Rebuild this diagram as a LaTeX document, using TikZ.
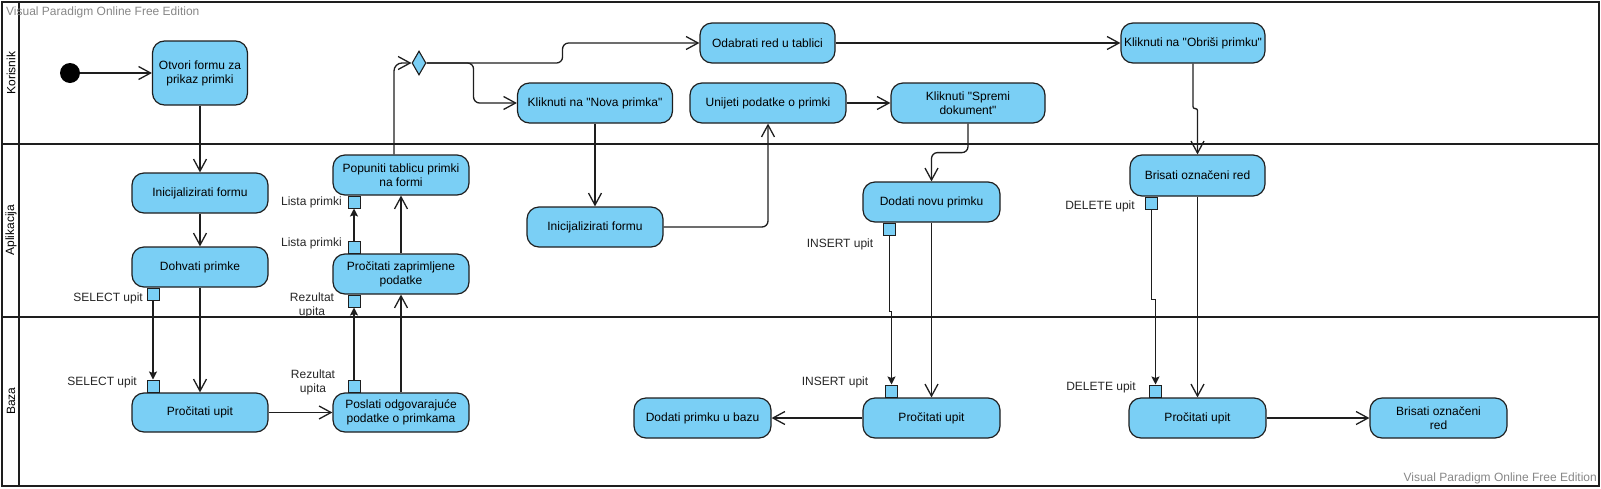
\documentclass[tikz,border=0pt]{standalone}
\usepackage{fontspec}
\setmainfont{Liberation Sans}
\newfontfamily\vpfont{Liberation Sans}
\definecolor{vpblue}{RGB}{122, 207, 245}
\definecolor{vpline}{RGB}{30, 30, 30}
\definecolor{vpgray}{RGB}{135, 135, 135}
\usepackage{tikz}
\usetikzlibrary{shapes.geometric, arrows.meta, positioning}

\begin{document}
\begin{tikzpicture}[x=1pt, y=-1pt,
  action/.style={draw=vpline, fill=vpblue, line width=1.2pt, rounded corners=12pt, align=center, inner sep=2pt, minimum width=136pt, minimum height=40pt, font=\vpfont\fontsize{12}{13.8}\selectfont},
  objpin/.style={draw=vpline, fill=vpblue, line width=0.9pt, minimum size=12pt, inner sep=0pt},
  pinlabel/.style={font=\vpfont\fontsize{12}{13.8}\selectfont, text=black!85, inner sep=0pt, align=center},
  decision/.style={diamond, draw=vpline, fill=vpblue, line width=1.1pt, minimum width=14pt, minimum height=24pt, inner sep=0pt},
  startdot/.style={circle, fill=black, minimum size=20pt, inner sep=0pt},
  flow/.style={draw=vpline, line width=1.3pt, -{Straight Barb[length=12pt, width=13pt]}},
  objflow/.style={draw=vpline, line width=1.3pt, -{Stealth[length=8pt, width=8pt, inset=1.5pt]}},
  lane/.style={draw=vpline, line width=2pt},
  lanelabel/.style={rotate=90, font=\vpfont\fontsize{12}{13.8}\selectfont},
  watermark/.style={text=vpgray, font=\vpfont\fontsize{12}{13.8}\selectfont, inner sep=0pt}]
  \useasboundingbox (0,0) rectangle (1601,488);

  % Swimlanes
  \draw[lane] (2,2) rectangle (1599,486);
  \draw[lane] (19,2) -- (19,486);
  \draw[lane] (2,144) -- (1599,144);
  \draw[lane] (2,317) -- (1599,317);
  \node[lanelabel] (lkorisnik) at (11,73) {Korisnik};
  \node[lanelabel] (laplikacija) at (11,230) {Aplikacija};
  \node[lanelabel] (lbaza) at (11,401) {Baza};
  \node[watermark, anchor=west] (wmtop) at (6,12) {Visual Paradigm Online Free Edition};
  \node[watermark, anchor=east] (wmbottom) at (1597,478) {Visual Paradigm Online Free Edition};

  % Korisnik
  \node[startdot] (start) at (70,73) {};
  \node[action, minimum width=95pt, minimum height=64pt] (otvori) at (200,73) {Otvori formu za\\prikaz primki};
  \node[decision] (dec) at (419,63) {};
  \node[action, minimum width=135pt] (odabrati) at (767.5,43) {Odabrati red u tablici};
  \node[action, minimum width=155pt] (novaprimka) at (595,103) {Kliknuti na "Nova primka"};
  \node[action, minimum width=156pt] (unijeti) at (768,103) {Unijeti podatke o primki};
  \node[action, minimum width=154pt] (spremi) at (968,103) {Kliknuti "Spremi\\dokument"};
  \node[action, minimum width=144pt] (obrisi) at (1193,43) {Kliknuti na "Obriši primku"};

  % Aplikacija
  \node[action] (init1) at (200,193) {Inicijalizirati formu};
  \node[action] (dohvati) at (200,267) {Dohvati primke};
  \node[action] (popuniti) at (401,175) {Popuniti tablicu primki\\na formi};
  \node[action] (procitatiz) at (401,274) {Pročitati zaprimljene\\podatke};
  \node[action] (init2) at (595,227) {Inicijalizirati formu};
  \node[action, minimum width=137pt] (dodati) at (931.5,202) {Dodati novu primku};
  \node[action, minimum width=135pt, minimum height=41pt] (brisati1) at (1197.5,175.5) {Brisati označeni red};

  % Baza
  \node[action, minimum height=39pt] (procitat1) at (200,412.5) {Pročitati upit};
  \node[action, minimum height=39pt] (poslati) at (401,412.5) {Poslati odgovarajuće\\podatke o primkama};
  \node[action, minimum width=137pt] (dodatibaza) at (702.5,418) {Dodati primku u bazu};
  \node[action, minimum width=137pt] (procitat2) at (931.5,418) {Pročitati upit};
  \node[action, minimum width=137pt] (procitat3) at (1197.5,418) {Pročitati upit};
  \node[action, minimum width=137pt] (brisati2) at (1438.5,418) {Brisati označeni\\red};

  % Pins
  \node[objpin, below=0pt of dohvati.south, xshift=-47pt] (psel1) {};
  \node[objpin, above=0pt of procitat1.north, xshift=-47pt] (psel2) {};
  \node[objpin, below=0pt of procitatiz.south, xshift=-47pt] (prez2) {};
  \node[objpin, above=0pt of poslati.north, xshift=-47pt] (prez1) {};
  \node[objpin, above=0pt of procitatiz.north, xshift=-47pt] (plista1) {};
  \node[objpin, below=0pt of popuniti.south, xshift=-47pt] (plista2) {};
  \node[objpin, below=0pt of dodati.south, xshift=-42pt] (pins1) {};
  \node[objpin, above=0pt of procitat2.north, xshift=-40pt] (pins2) {};
  \node[objpin, below=0pt of brisati1.south, xshift=-46pt] (pdel1) {};
  \node[objpin, above=0pt of procitat3.north, xshift=-42pt] (pdel2) {};

  % Pin labels
  \node[pinlabel, anchor=east] (lsel1) at (143,298) {SELECT upit};
  \node[pinlabel, anchor=east] (lsel2) at (137,382) {SELECT upit};
  \node[pinlabel] (lrez2) at (312,305) {Rezultat\\upita};
  \node[pinlabel] (lrez1) at (313,382) {Rezultat\\upita};
  \node[pinlabel, anchor=east] (llista1) at (342,243) {Lista primki};
  \node[pinlabel, anchor=east] (llista2) at (342,202) {Lista primki};
  \node[pinlabel] (lins1) at (840,244) {INSERT upit};
  \node[pinlabel] (lins2) at (835,382) {INSERT upit};
  \node[pinlabel] (ldel1) at (1100,206) {DELETE upit};
  \node[pinlabel] (ldel2) at (1101,387) {DELETE upit};

  % Control flow
  \draw[flow] (start.east) -- (otvori.west);
  \draw[flow] (otvori.south) -- (init1.north);
  \draw[flow] (init1.south) -- (dohvati.north);
  \draw[flow] (dohvati.south) -- (procitat1.north);
  \draw[flow] (procitat1.east) -- (poslati.west);
  \draw[flow] (poslati.north) -- (procitatiz.south);
  \draw[flow] (procitatiz.north) -- (popuniti.south);
  \draw[flow, rounded corners=8pt] ([xshift=-7pt]popuniti.north) |- (dec.west);
  \draw[flow, rounded corners=6pt] (dec.east) -- ++(136,0) |- (odabrati.west);
  \draw[flow, rounded corners=6pt] (dec.east) -- ++(47,0) |- (novaprimka.west);
  \draw[flow] (novaprimka.south) -- (init2.north);
  \draw[flow, rounded corners=6pt] (init2.east) -| (unijeti.south);
  \draw[flow] (unijeti.east) -- (spremi.west);
  \draw[flow, rounded corners=6pt] (spremi.south) -- ++(0,29) -| (dodati.north);
  \draw[flow] (dodati.south) -- (procitat2.north);
  \draw[flow] (procitat2.west) -- (dodatibaza.east);
  \draw[flow] (odabrati.east) -- (obrisi.west);
  \draw[flow, rounded corners=2pt] (obrisi.south) -- ++(0,45) -| (brisati1.north);
  \draw[flow] (brisati1.south) -- (procitat3.north);
  \draw[flow] (procitat3.east) -- (brisati2.west);

  % Object flow
  \draw[objflow] (psel1.south) -- (psel2.north);
  \draw[objflow] (prez1.north) -- (prez2.south);
  \draw[objflow] (plista1.north) -- (plista2.south);
  \draw[objflow] (pins1.south) -- ++(0,76) -| (pins2.north);
  \draw[objflow] (pdel1.south) -- ++(0,90) -| (pdel2.north);
\end{tikzpicture}
\end{document}
